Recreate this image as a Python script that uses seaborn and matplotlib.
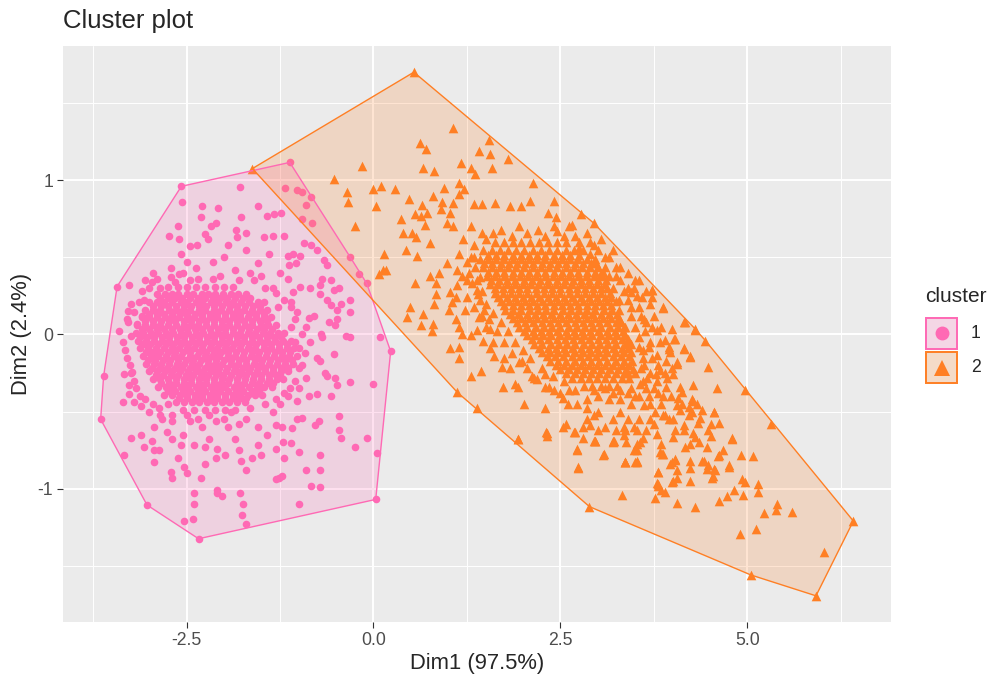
import numpy as np
import pandas as pd
import seaborn as sns
import matplotlib.pyplot as plt
from matplotlib.patches import Rectangle
from matplotlib.lines import Line2D

# ---- values (Dim1, Dim2) ----
# dense core of cluster 1: one row per Dim2 value
pink_core_y = [0.31, 0.26, 0.235, 0.21, 0.185, 0.16, 0.135, 0.11, 0.085, 0.06, 0.035, 0.01,
               -0.015, -0.04, -0.065, -0.09, -0.115, -0.14, -0.165, -0.19, -0.215, -0.24,
               -0.265, -0.29, -0.315, -0.34, -0.365, -0.39, -0.415, -0.44, -0.49]
pink_core_x = [
    [-2.75, -2.62, -2.50, -2.38, -2.25, -2.12, -2.00, -1.88],
    [-2.90, -2.79, -2.70, -2.61, -2.50, -2.41, -2.30, -2.21, -2.12, -2.01, -1.90, -1.81, -1.70],
    [-2.85, -2.75, -2.65, -2.56, -2.45, -2.35, -2.26, -2.15, -2.05, -1.96, -1.85, -1.75, -1.65],
    [-3.00, -2.89, -2.80, -2.69, -2.58, -2.49, -2.38, -2.29, -2.18, -2.08, -1.97, -1.88, -1.77, -1.66, -1.55, -1.47],
    [-2.95, -2.84, -2.75, -2.64, -2.54, -2.44, -2.33, -2.24, -2.13, -2.03, -1.92, -1.83, -1.72, -1.61, -1.52],
    [-3.05, -2.95, -2.85, -2.74, -2.64, -2.55, -2.45, -2.34, -2.25, -2.14, -2.04, -1.93, -1.83, -1.73, -1.62, -1.52, -1.42],
    [-3.00, -2.90, -2.80, -2.69, -2.59, -2.50, -2.39, -2.29, -2.19, -2.09, -1.99, -1.88, -1.78, -1.67, -1.57, -1.47],
    [-3.10, -3.00, -2.90, -2.79, -2.70, -2.60, -2.49, -2.40, -2.29, -2.19, -2.09, -1.98, -1.88, -1.78, -1.68, -1.57, -1.47, -1.37],
    [-3.05, -2.95, -2.84, -2.74, -2.65, -2.54, -2.44, -2.34, -2.24, -2.14, -2.03, -1.93, -1.83, -1.73, -1.62, -1.52, -1.42],
    [-3.16, -3.05, -2.95, -2.85, -2.75, -2.64, -2.54, -2.44, -2.35, -2.24, -2.14, -2.03, -1.93, -1.83, -1.72, -1.62, -1.51, -1.41, -1.31],
    [-3.10, -3.00, -2.90, -2.80, -2.70, -2.59, -2.49, -2.39, -2.29, -2.19, -2.08, -1.98, -1.88, -1.77, -1.67, -1.56, -1.46, -1.36],
    [-3.18, -3.08, -2.98, -2.88, -2.78, -2.68, -2.58, -2.48, -2.38, -2.28, -2.18, -2.08, -1.98, -1.88, -1.78, -1.68, -1.58, -1.48, -1.38, -1.28, -1.20],
    [-3.12, -3.03, -2.93, -2.83, -2.73, -2.63, -2.53, -2.43, -2.33, -2.23, -2.13, -2.03, -1.93, -1.83, -1.73, -1.63, -1.53, -1.43, -1.33, -1.24],
    [-3.15, -3.04, -2.94, -2.83, -2.73, -2.63, -2.53, -2.43, -2.33, -2.23, -2.13, -2.03, -1.93, -1.83, -1.73, -1.62, -1.52, -1.42, -1.32, -1.21, -1.11],
    [-3.08, -2.99, -2.88, -2.78, -2.68, -2.58, -2.48, -2.38, -2.28, -2.18, -2.07, -1.97, -1.87, -1.77, -1.67, -1.57, -1.47, -1.37, -1.26, -1.16],
    [-3.12, -3.01, -2.91, -2.80, -2.70, -2.60, -2.50, -2.40, -2.30, -2.19, -2.09, -1.99, -1.89, -1.78, -1.68, -1.58, -1.47, -1.37, -1.27, -1.16, -1.06, -0.99],
    [-3.04, -2.95, -2.85, -2.75, -2.65, -2.55, -2.45, -2.34, -2.24, -2.14, -2.04, -1.94, -1.84, -1.73, -1.63, -1.53, -1.42, -1.32, -1.22, -1.12],
    [-3.08, -2.98, -2.88, -2.77, -2.67, -2.57, -2.46, -2.36, -2.26, -2.16, -2.06, -1.95, -1.85, -1.75, -1.64, -1.54, -1.44, -1.33, -1.23, -1.13, -1.02],
    [-3.02, -2.92, -2.82, -2.72, -2.62, -2.51, -2.41, -2.31, -2.21, -2.11, -2.00, -1.90, -1.80, -1.70, -1.59, -1.49, -1.39, -1.28, -1.18, -1.09],
    [-3.04, -2.94, -2.84, -2.74, -2.63, -2.53, -2.43, -2.33, -2.22, -2.12, -2.02, -1.91, -1.81, -1.71, -1.60, -1.50, -1.40, -1.29, -1.19, -1.08],
    [-2.96, -2.86, -2.76, -2.66, -2.56, -2.46, -2.36, -2.26, -2.16, -2.06, -1.96, -1.85, -1.75, -1.65, -1.55, -1.45, -1.34, -1.24, -1.15],
    [-3.00, -2.90, -2.79, -2.69, -2.59, -2.48, -2.38, -2.28, -2.18, -2.08, -1.97, -1.87, -1.77, -1.66, -1.56, -1.45, -1.35, -1.24, -1.14],
    [-2.91, -2.81, -2.71, -2.61, -2.51, -2.41, -2.31, -2.21, -2.11, -2.01, -1.90, -1.80, -1.70, -1.60, -1.50, -1.40, -1.30, -1.25],
    [-2.95, -2.85, -2.75, -2.64, -2.54, -2.44, -2.34, -2.24, -2.13, -2.03, -1.93, -1.82, -1.72, -1.61, -1.51, -1.40, -1.29, -1.21],
    [-2.84, -2.74, -2.64, -2.54, -2.44, -2.34, -2.24, -2.14, -2.04, -1.94, -1.83, -1.73, -1.63, -1.53, -1.43, -1.34],
    [-2.88, -2.78, -2.68, -2.58, -2.48, -2.38, -2.28, -2.18, -2.08, -1.98, -1.87, -1.77, -1.67, -1.56, -1.46, -1.36],
    [-2.75, -2.65, -2.55, -2.45, -2.35, -2.25, -2.15, -2.05, -1.94, -1.84, -1.74, -1.63, -1.53],
    [-2.80, -2.70, -2.59, -2.49, -2.39, -2.29, -2.19, -2.09, -1.98, -1.88, -1.78, -1.68, -1.58, -1.49],
    [-2.60, -2.50, -2.39, -2.29, -2.19, -2.09, -1.98, -1.88, -1.78, -1.70],
    [-2.64, -2.54, -2.43, -2.33, -2.23, -2.13, -2.03, -1.93, -1.82, -1.72],
    [-2.55, -2.40, -2.26, -2.12, -1.98, -1.85],
]
# scattered points of cluster 1
pink_pts = [
    (-2.95, 0.40), (-2.55, 0.40), (-2.35, 0.36), (-2.05, 0.38), (-1.85, 0.42), (-1.60, 0.35),
    (-1.45, 0.30), (-1.30, 0.27), (-1.55, 0.46), (-2.00, 0.50), (-1.70, 0.55), (-2.15, 0.47),
    (-1.95, 0.58), (-1.40, 0.52), (-1.25, 0.40), (-1.15, 0.36), (-1.10, 0.18), (-1.05, 0.10),
    (-0.90, 0.05), (-0.85, -0.05), (-0.80, 0.12), (-0.95, -0.20), (-0.90, -0.28), (-1.00, -0.35),
    (-0.75, -0.15), (-0.70, 0.00), (-0.65, -0.25), (-1.15, -0.40), (-1.25, -0.45), (-1.35, -0.50),
    (-0.60, 0.08), (-0.62, 0.22), (-0.72, 0.26), (-0.85, 0.30), (-3.25, 0.20), (-3.30, 0.10),
    (-3.35, -0.05), (-3.30, -0.15), (-3.25, -0.25), (-3.18, -0.35), (-3.10, 0.28), (-3.05, 0.35),
    (-3.40, 0.02), (-2.95, -0.45), (-2.85, -0.52), (-2.70, -0.52), (-2.45, -0.56), (-2.30, -0.60),
    (-2.10, -0.56), (-1.95, -0.60), (-1.70, -0.55), (-1.55, -0.60), (-2.55, -0.65), (-2.20, -0.68),
    (-1.85, -0.68), (-2.40, -0.72),
    (-3.28, 0.15), (-3.32, -0.10), (-3.26, -0.20), (-3.20, -0.30), (-3.12, -0.40), (-3.05, -0.42),
    (-1.05, -0.05), (-0.95, 0.00), (-0.92, -0.12), (-1.00, -0.22), (-1.05, -0.30), (-1.12, -0.35),
    (-1.20, -0.38), (-1.10, 0.05), (-1.20, 0.22), (-1.28, 0.18), (-1.35, 0.30), (-1.50, 0.38),
    (-1.65, 0.40), (-1.80, 0.35), (-2.15, 0.36), (-2.45, 0.35), (-2.65, 0.34), (-2.85, 0.30),
    (-3.00, 0.30), (-2.75, -0.45), (-2.50, -0.52), (-2.20, -0.52), (-1.90, -0.50), (-1.65, -0.48),
    (-1.45, -0.45), (-1.30, -0.42), (-2.35, -0.55), (-2.00, -0.55), (-1.80, -0.58),
    (-2.57, 0.96), (-1.12, 1.115), (-1.79, 0.957), (-2.56, 0.86), (-2.29, 0.83), (-2.08, 0.82),
    (-1.55, 0.83), (-2.31, 0.76), (-1.77, 0.76), (-1.42, 0.77), (-1.33, 0.78), (-1.24, 0.785),
    (-1.18, 0.946), (-1.02, 0.935), (-0.95, 0.92), (-0.83, 0.89), (-0.90, 0.84), (-2.61, 0.70),
    (-2.74, 0.64), (-2.60, 0.62), (-2.11, 0.72), (-2.18, 0.70), (-2.25, 0.65), (-2.22, 0.62),
    (-1.84, 0.675), (-1.71, 0.66), (-1.82, 0.63), (-1.47, 0.63), (-1.35, 0.64), (-1.20, 0.64),
    (-0.95, 0.75), (-0.82, 0.72), (-0.93, 0.59), (-0.84, 0.58), (-0.75, 0.545), (-0.66, 0.48),
    (-0.62, 0.45), (-0.31, 0.50), (-0.19, 0.39), (-0.09, 0.33), (-0.57, 0.35), (-0.46, 0.30),
    (-0.53, 0.285), (-0.69, 0.36), (-0.71, 0.32), (-0.31, 0.22), (-0.44, 0.20), (-0.57, 0.19),
    (-0.49, 0.156), (-0.32, 0.145), (-0.49, 0.10), (-0.51, 0.06), (0.09, -0.02), (0.23, -0.11),
    (-0.37, -0.01), (-0.31, -0.02), (-0.69, -0.02), (-0.86, 0.106), (-1.02, 0.145), (-1.11, 0.21),
    (-1.07, 0.275), (-0.98, 0.31), (-1.13, 0.45), (-1.04, 0.46), (-1.15, 0.51), (-1.07, 0.52),
    (-0.98, 0.51), (-3.27, 0.32), (-2.89, 0.36), (-2.96, 0.34), (-2.71, 0.43), (-2.60, 0.39),
    (-2.71, 0.37), (-2.58, 0.52), (-2.45, 0.57), (-2.36, 0.58), (-2.49, 0.47), (-2.38, 0.43),
    (-3.14, 0.21), (-3.07, 0.22), (-3.20, 0.145), (-3.09, 0.12), (-3.29, 0.08), (-3.25, -0.01),
    (-3.16, 0.07), (-3.43, 0.31),
    (-3.61, -0.27), (-3.65, -0.55), (-3.34, -0.255), (-3.23, -0.245), (-3.27, -0.33), (-3.27, -0.385),
    (-3.35, -0.44), (-3.21, -0.44), (-3.11, -0.466), (-3.00, -0.50), (-2.87, -0.48), (-2.83, -0.55),
    (-2.69, -0.56), (-2.94, -0.60), (-2.76, -0.63), (-2.69, -0.68), (-3.24, -0.67), (-3.11, -0.65),
    (-2.96, -0.69), (-3.07, -0.73), (-2.94, -0.75), (-2.87, -0.75), (-2.94, -0.83), (-3.34, -0.785),
    (-2.61, -0.80), (-2.57, -0.72), (-2.71, -0.89), (-2.69, -0.93), (-2.54, -0.86), (-2.49, -0.90),
    (-2.31, -0.93), (-2.25, -0.84), (-2.40, -1.03), (-2.40, -1.10), (-2.42, -1.20), (-2.53, -1.21),
    (-3.03, -1.106), (-2.34, -1.325), (-2.09, -1.01), (-2.02, -1.05), (-2.09, -1.03), (-1.79, -1.03),
    (-1.74, -1.10), (-1.76, -1.17), (-1.70, -1.23), (-2.09, -0.74), (-1.99, -0.785), (-2.10, -0.80),
    (-2.25, -0.73), (-1.80, -0.75), (-1.77, -0.82), (-1.71, -0.88), (-1.63, -0.80), (-1.50, -0.78),
    (-1.55, -0.72), (-1.42, -0.655), (-1.31, -0.74), (-1.20, -0.80), (-1.21, -0.70), (-1.11, -0.705),
    (-1.27, -0.93), (-1.23, -0.915), (-1.30, -0.94), (-1.00, -0.76), (-0.90, -0.88), (-0.71, -0.88),
    (-0.71, -0.78), (-0.84, -0.98), (-0.72, -0.99), (-0.99, -1.10), (-1.31, -0.59), (-1.22, -0.60),
    (-1.09, -0.61), (-1.02, -0.55), (-0.95, -0.54), (-0.73, -0.56), (-0.78, -0.59), (-0.46, -0.53),
    (-0.46, -0.62), (-0.44, -0.67), (-0.08, -0.67), (-0.25, -0.73), (0.05, -0.77), (0.03, -1.07),
    (-0.57, -0.40), (-0.49, -0.33), (-0.31, -0.31), (0.00, -0.32), (-0.62, -0.27), (-0.51, -0.28),
    (-0.53, -0.125), (-0.71, -0.17), (-1.02, -0.43), (-0.86, -0.40), (-0.75, -0.385),
]

# dense core of cluster 2
orange_core_y = [0.60, 0.545, 0.5175, 0.49, 0.4625, 0.435, 0.4075, 0.38, 0.3525, 0.325, 0.2975,
                 0.27, 0.2425, 0.215, 0.1875, 0.16, 0.1325, 0.105, 0.0775, 0.05, 0.0225,
                 -0.005, -0.0325, -0.06, -0.0875, -0.115, -0.1425, -0.17, -0.1975, -0.225,
                 -0.2525, -0.28, -0.335]
orange_core_x = [
    [1.62, 1.74, 1.86, 1.98, 2.10, 2.22, 2.34, 2.46, 2.58],
    [1.47, 1.58, 1.69, 1.80, 1.91, 2.02, 2.13, 2.24, 2.35, 2.46, 2.57, 2.68, 2.80],
    [1.53, 1.64, 1.75, 1.86, 1.97, 2.08, 2.19, 2.30, 2.41, 2.52, 2.63, 2.75],
    [1.42, 1.53, 1.64, 1.75, 1.86, 1.97, 2.08, 2.19, 2.30, 2.41, 2.52, 2.63, 2.74, 2.85, 2.96],
    [1.48, 1.59, 1.70, 1.81, 1.92, 2.03, 2.14, 2.25, 2.36, 2.47, 2.58, 2.69, 2.80, 2.91, 2.98],
    [1.47, 1.58, 1.69, 1.80, 1.91, 2.02, 2.13, 2.24, 2.35, 2.46, 2.57, 2.68, 2.79, 2.90, 3.01, 3.10],
    [1.53, 1.64, 1.75, 1.86, 1.97, 2.08, 2.19, 2.30, 2.41, 2.52, 2.63, 2.74, 2.85, 2.96, 3.07],
    [1.52, 1.63, 1.74, 1.85, 1.96, 2.07, 2.18, 2.29, 2.40, 2.51, 2.62, 2.73, 2.84, 2.95, 3.06, 3.15],
    [1.57, 1.68, 1.79, 1.90, 2.01, 2.12, 2.23, 2.34, 2.45, 2.56, 2.67, 2.78, 2.89, 3.00, 3.11],
    [1.56, 1.67, 1.78, 1.89, 2.00, 2.11, 2.22, 2.33, 2.44, 2.55, 2.66, 2.77, 2.88, 2.99, 3.10],
    [1.62, 1.73, 1.84, 1.95, 2.06, 2.17, 2.28, 2.39, 2.50, 2.61, 2.72, 2.83, 2.94, 3.05, 3.12],
    [1.62, 1.73, 1.84, 1.95, 2.06, 2.17, 2.28, 2.39, 2.50, 2.61, 2.72, 2.83, 2.94, 3.05, 3.16],
    [1.67, 1.78, 1.89, 2.00, 2.11, 2.22, 2.33, 2.44, 2.55, 2.66, 2.77, 2.88, 2.99, 3.10, 3.18],
    [1.70, 1.81, 1.92, 2.03, 2.14, 2.25, 2.36, 2.47, 2.58, 2.69, 2.80, 2.91, 3.02, 3.13, 3.24],
    [1.75, 1.86, 1.97, 2.08, 2.19, 2.30, 2.41, 2.52, 2.63, 2.74, 2.85, 2.96, 3.07, 3.18],
    [1.76, 1.87, 1.98, 2.09, 2.20, 2.31, 2.42, 2.53, 2.64, 2.75, 2.86, 2.97, 3.08, 3.19, 3.29],
    [1.83, 1.94, 2.05, 2.16, 2.27, 2.38, 2.49, 2.60, 2.71, 2.82, 2.93, 3.04, 3.15, 3.26],
    [1.86, 1.97, 2.08, 2.19, 2.30, 2.41, 2.52, 2.63, 2.74, 2.85, 2.96, 3.07, 3.18, 3.29],
    [1.92, 2.03, 2.14, 2.25, 2.36, 2.47, 2.58, 2.69, 2.80, 2.91, 3.02, 3.13, 3.24, 3.31],
    [1.95, 2.06, 2.17, 2.28, 2.39, 2.50, 2.61, 2.72, 2.83, 2.94, 3.05, 3.16, 3.27, 3.36],
    [2.02, 2.13, 2.24, 2.35, 2.46, 2.57, 2.68, 2.79, 2.90, 3.01, 3.12, 3.23, 3.34],
    [2.05, 2.16, 2.27, 2.38, 2.49, 2.60, 2.71, 2.82, 2.93, 3.04, 3.15, 3.26, 3.37],
    [2.12, 2.23, 2.34, 2.45, 2.56, 2.67, 2.78, 2.89, 3.00, 3.11, 3.22, 3.33, 3.40],
    [2.15, 2.26, 2.37, 2.48, 2.59, 2.70, 2.81, 2.92, 3.03, 3.14, 3.25, 3.36, 3.45],
    [2.22, 2.33, 2.44, 2.55, 2.66, 2.77, 2.88, 2.99, 3.10, 3.21, 3.32, 3.40],
    [2.25, 2.36, 2.47, 2.58, 2.69, 2.80, 2.91, 3.02, 3.13, 3.24, 3.35, 3.45],
    [2.32, 2.43, 2.54, 2.65, 2.76, 2.87, 2.98, 3.09, 3.20, 3.31, 3.42],
    [2.36, 2.47, 2.58, 2.69, 2.80, 2.91, 3.02, 3.13, 3.24, 3.35, 3.46],
    [2.44, 2.55, 2.66, 2.77, 2.88, 2.99, 3.10, 3.21, 3.32, 3.42],
    [2.50, 2.61, 2.72, 2.83, 2.94, 3.05, 3.16, 3.27, 3.38, 3.47],
    [2.58, 2.69, 2.80, 2.91, 3.02, 3.13, 3.24, 3.35, 3.40],
    [2.66, 2.77, 2.88, 2.99, 3.10, 3.21, 3.32, 3.42],
    [2.82, 2.93, 3.04, 3.15, 3.26],
]
# scattered points of cluster 2
orange_pts = [
    (1.30, 0.70), (1.45, 0.66), (1.70, 0.68), (1.95, 0.70), (2.20, 0.68), (2.45, 0.67), (2.70, 0.64),
    (2.90, 0.60), (3.00, 0.55), (3.15, 0.50), (3.25, 0.44), (3.30, 0.35), (3.35, 0.28), (3.40, 0.22),
    (3.45, 0.12), (3.50, 0.05), (3.55, -0.02), (3.60, -0.10), (3.62, -0.20), (3.60, -0.30),
    (3.55, -0.40), (3.45, -0.45), (3.30, -0.42), (3.15, -0.42), (3.00, -0.40), (2.85, -0.42),
    (2.70, -0.36), (2.55, -0.30), (2.40, -0.27), (2.25, -0.22), (2.10, -0.15), (2.00, -0.10),
    (1.90, -0.05), (1.80, 0.02), (1.70, 0.08), (1.60, 0.14), (1.50, 0.20), (1.40, 0.26), (1.32, 0.33),
    (1.28, 0.40), (1.30, 0.50), (1.35, 0.58), (1.20, 0.62), (1.15, 0.52), (3.70, -0.45), (3.75, -0.35),
    (3.70, -0.05), (3.65, 0.08), (3.55, 0.18), (3.48, 0.30), (3.40, -0.55), (3.20, -0.55), (2.95, -0.52),
    (2.60, -0.45), (1.75, -0.15), (1.60, -0.05), (1.50, 0.05), (1.45, 0.12), (1.18, 0.38),
    (3.50, 0.35), (3.40, 0.40), (3.62, 0.10), (3.75, 0.12), (3.80, -0.20), (3.70, -0.25), (3.65, -0.35),
    (3.85, -0.45), (3.70, -0.55), (3.55, -0.55), (3.95, -0.55), (3.60, -0.15), (3.85, 0.05),
    (3.50, -0.25), (3.45, -0.35), (3.30, -0.50), (3.10, -0.60), (2.85, -0.55), (3.00, -0.50),
    (2.75, 0.60), (2.85, 0.66), (2.95, 0.72), (2.90, 0.52), (3.05, 0.62), (2.62, 0.70),
    (3.52, 0.25), (3.58, 0.12), (3.63, 0.02), (3.68, -0.08), (3.55, -0.08), (3.72, -0.15), (3.58, -0.22),
    (3.66, -0.28), (3.78, -0.26), (3.56, -0.32), (3.68, -0.40), (3.80, -0.38), (3.62, -0.46),
    (3.76, -0.50), (3.88, -0.52), (3.50, -0.40), (3.40, -0.38), (3.30, -0.36), (3.20, -0.38),
    (3.10, -0.35), (2.95, -0.36), (3.35, -0.60), (3.52, -0.62), (3.65, -0.62), (3.25, -0.62),
    (3.00, -0.62), (2.80, -0.60), (3.45, 0.18), (3.40, 0.30), (3.30, 0.44), (3.20, 0.55), (3.10, 0.50),
    (3.05, 0.40), (3.20, 0.30), (3.28, 0.22), (3.35, 0.05), (3.42, -0.05), (3.55, 0.35), (3.65, 0.28),
    (3.83, -0.05), (3.90, -0.25), (3.98, -0.40), (3.72, 0.05),
    (1.35, 0.50), (1.38, 0.35), (1.45, 0.28), (1.50, 0.62), (1.60, 0.66), (1.85, 0.64), (2.05, 0.66),
    (2.30, 0.64), (2.55, 0.64), (2.75, 0.56), (2.95, 0.58), (1.55, 0.10), (1.65, 0.02), (1.75, -0.05),
    (1.85, -0.12), (1.95, -0.18), (2.15, -0.28), (2.35, -0.34), (2.50, -0.38), (2.62, -0.36),
    (1.48, 0.16), (1.42, 0.22),
    (-1.62, 1.075), (0.54, 1.70), (1.06, 1.335), (0.62, 1.24), (0.70, 1.205), (1.54, 1.26), (1.41, 1.19),
    (1.555, 1.17), (1.80, 1.14), (-0.16, 1.09), (-0.53, 1.005), (0.66, 1.08), (0.81, 1.06), (1.17, 1.11),
    (1.30, 1.08), (1.36, 1.04), (1.58, 1.08), (-0.36, 0.92), (-0.34, 0.86), (0.00, 0.94), (0.10, 0.96),
    (0.29, 0.945), (0.03, 0.83), (-0.25, 0.70), (0.47, 0.88), (0.65, 0.84), (0.79, 0.90), (0.95, 0.95),
    (1.15, 0.98), (1.21, 0.945), (1.14, 0.91), (0.92, 0.86), (1.06, 0.85), (0.905, 0.81), (1.03, 0.79),
    (0.56, 0.78), (0.63, 0.77), (0.72, 0.79), (0.69, 0.71), (0.37, 0.75), (0.39, 0.66), (0.52, 0.66),
    (0.57, 0.63), (0.14, 0.52), (0.43, 0.545), (0.58, 0.51), (0.76, 0.59), (0.985, 0.72), (1.07, 0.70),
    (1.34, 0.845), (1.45, 0.845), (1.63, 0.85), (1.83, 0.83), (1.97, 0.83), (2.10, 0.865), (2.14, 0.98),
    (2.41, 0.865), (2.34, 0.79), (2.44, 0.76), (2.42, 0.70), (2.77, 0.78), (2.66, 0.71), (0.13, 0.42),
    (0.08, 0.39), (0.17, 0.415),
    (6.42, -1.21), (5.92, -1.695), (5.05, -1.56), (6.03, -1.41), (4.90, -1.295), (5.12, -1.26),
    (5.22, -1.16), (5.40, -1.10), (5.60, -1.15), (4.62, -1.08), (4.73, -1.045), (4.82, -1.01),
    (4.95, -1.04), (5.14, -1.02), (4.30, -1.12), (4.06, -1.09), (3.77, -1.06), (3.90, -1.02),
    (3.32, -1.04), (3.81, -0.98), (3.99, -0.96), (4.24, -0.95), (2.89, -1.117), (1.94, -0.68),
    (2.01, -0.45), (2.29, -0.48), (2.57, -0.58), (2.54, -0.60), (2.31, -0.63), (2.32, -0.66),
    (2.69, -0.63), (2.80, -0.67), (2.90, -0.59), (2.96, -0.69), (2.72, -0.75), (2.74, -0.865),
    (3.07, -0.785), (3.36, -0.83), (3.50, -0.83), (3.22, -0.69), (3.38, -0.70), (3.53, -0.75),
    (3.61, -0.67), (3.53, -0.71), (3.81, -0.89), (3.79, -0.965), (3.84, -1.01), (4.01, -0.95),
    (3.86, -0.775), (4.04, -0.81), (4.24, -0.82), (4.42, -0.82), (4.46, -0.87), (4.55, -0.87),
    (4.54, -0.92), (4.62, -0.785), (4.75, -0.85), (4.68, -0.75), (4.80, -0.67), (4.92, -0.78),
    (5.08, -0.79), (4.93, -0.94), (4.97, -0.96), (5.15, -0.97), (5.39, -1.14), (5.32, -0.58),
    (2.72, -0.45), (2.86, -0.48),
    (3.25, 0.38), (3.73, 0.29), (3.88, 0.17), (3.59, 0.24), (3.70, 0.20), (4.17, 0.08), (4.30, 0.03),
    (4.44, -0.04), (3.99, 0.037), (3.79, 0.03), (4.02, -0.03), (3.90, -0.035), (4.15, -0.09),
    (4.23, -0.14), (3.95, -0.08), (3.97, -0.115), (4.48, -0.21), (4.28, -0.33), (4.59, -0.35),
    (4.97, -0.36), (4.06, -0.19), (3.99, -0.22), (3.93, -0.28), (4.10, -0.34), (4.08, -0.41),
    (4.28, -0.43), (4.13, -0.45), (4.22, -0.525), (4.39, -0.49), (4.55, -0.50), (4.62, -0.575),
    (4.48, -0.62), (4.34, -0.575), (4.79, -0.68), (4.75, -0.86), (4.61, -0.79), (4.28, -0.64),
    (4.35, -0.70), (4.46, -0.73), (4.51, -0.66), (4.24, -0.71), (4.15, -0.62), (4.04, -0.62),
    (4.48, -0.85), (4.57, -0.88), (4.53, -0.93), (3.80, -0.97), (3.84, -0.71), (3.88, -0.775),
    (3.99, -0.83), (4.06, -0.88), (4.39, -0.82), (3.21, -0.69), (3.37, -0.62), (3.48, -0.60),
    (3.75, -0.58), (3.48, -0.75), (3.53, -0.82), (3.36, -0.83), (3.90, -0.525), (4.01, -0.55),
    (4.15, -0.59), (4.26, -0.50), (4.37, -0.54), (4.51, -0.58), (4.56, -0.505), (4.33, -0.45),
    (4.22, -0.47), (4.10, -0.49),
    (0.55, 0.33), (0.83, 0.33), (0.87, 0.395), (0.76, 0.38), (0.83, 0.26), (0.81, 0.20), (0.485, 0.18),
    (0.66, 0.135), (0.45, 0.11), (0.63, 0.058), (0.80, 0.07), (0.78, 0.02), (1.03, -0.09), (1.14, -0.08),
    (1.14, -0.15), (1.30, -0.27), (1.44, -0.235), (1.12, -0.375), (1.39, -0.48), (1.93, -0.68),
    (1.73, -0.34), (1.89, -0.32), (1.93, -0.34), (2.30, -0.34), (2.41, -0.36), (2.54, -0.41),
    (2.32, -0.64), (2.72, -0.74), (2.74, -0.86), (2.95, -0.69), (2.68, -0.635), (1.56, -0.09),
    (1.61, -0.14), (1.72, -0.21), (1.83, -0.22), (1.99, -0.17), (2.05, -0.22), (2.12, -0.27),
    (2.19, -0.29), (2.30, -0.255), (1.03, 0.275), (1.05, 0.21), (1.01, 0.156), (1.10, 0.10),
    (1.14, 0.048), (1.19, 0.00), (1.30, -0.006), (1.39, 0.026), (1.47, -0.04), (1.56, 0.037),
    (0.985, 0.46), (1.12, 0.415), (1.25, 0.47), (1.36, 0.44), (1.43, 0.37), (1.25, 0.35), (1.12, 0.32),
    (1.10, 0.24), (1.25, 0.24), (1.39, 0.285), (1.34, 0.18), (1.23, 0.156), (1.41, 0.11),
    (3.44, 0.275), (3.72, 0.24), (3.72, 0.286), (3.88, 0.18), (4.15, 0.08), (4.30, 0.037), (4.04, -0.03),
    (3.95, -0.093), (4.15, -0.093), (4.23, -0.147), (3.79, -0.136), (3.92, -0.17), (4.06, -0.18),
    (3.83, -0.234), (4.01, -0.256), (4.13, -0.375), (4.26, -0.42), (4.06, -0.46), (3.88, -0.40),
    (3.92, -0.34), (3.79, -0.30), (3.35, -0.655), (3.57, -0.70), (3.79, -0.645), (4.01, -0.665),
    (4.17, -0.73), (4.30, -0.665), (3.83, -0.765), (4.04, -0.815), (4.24, -0.865), (3.81, -0.895),
    (4.06, -0.93), (3.97, -0.84), (3.53, -0.83), (3.37, -0.83), (3.08, -0.775), (2.97, -0.69),
    (3.21, -0.70),
]

cluster_names = ["1", "2"]
cluster_colors = ["#FF69B4", "#FF7F24"]


def build(core_y, core_x, pts, name):
    rows = [(x, y) for y, xs in zip(core_y, core_x) for x in xs] + list(pts)
    d = pd.DataFrame(rows, columns=["Dim1", "Dim2"])
    d["cluster"] = name
    return d


df = pd.concat([build(pink_core_y, pink_core_x, pink_pts, "1"),
                build(orange_core_y, orange_core_x, orange_pts, "2")], ignore_index=True)


def chull(p):
    # monotone chain convex hull
    p = sorted(set(map(tuple, p)))
    def cross(o, a, b):
        return (a[0] - o[0]) * (b[1] - o[1]) - (a[1] - o[1]) * (b[0] - o[0])
    lower, upper = [], []
    for q in p:
        while len(lower) >= 2 and cross(lower[-2], lower[-1], q) <= 0:
            lower.pop()
        lower.append(q)
    for q in reversed(p):
        while len(upper) >= 2 and cross(upper[-2], upper[-1], q) <= 0:
            upper.pop()
        upper.append(q)
    return np.array(lower[:-1] + upper[:-1])


sns.set_style("darkgrid", {"axes.facecolor": "#EBEBEB", "grid.color": "white"})
plt.rcParams['font.family'] = ['Liberation Sans', 'DejaVu Sans']

W, H = 1008, 688
fig = plt.figure(figsize=(W / 100, H / 100), dpi=100)
ax = fig.add_axes([63 / W, 1 - 622 / H, (891 - 63) / W, (622 - 46) / H])

markers = {"1": ("o", 30), "2": ("^", 48)}
for name, col in zip(cluster_names, cluster_colors):
    sub = df[df["cluster"] == name]
    m, s = markers[name]
    sns.scatterplot(data=sub, x="Dim1", y="Dim2", color=col, marker=m, s=s,
                    linewidth=0, ax=ax, legend=False, zorder=2)

for name, col in zip(cluster_names, cluster_colors):
    sub = df[df["cluster"] == name]
    hull = chull(sub[["Dim1", "Dim2"]].values)
    ax.fill(hull[:, 0], hull[:, 1], facecolor=col, alpha=0.2, edgecolor="none", zorder=3)
    closed = np.vstack([hull, hull[:1]])
    ax.plot(closed[:, 0], closed[:, 1], color=col, lw=1.0, zorder=4)

ax.margins(x=0.05, y=0.05)

ax.set_xticks([-2.5, 0.0, 2.5, 5.0])
ax.set_xticklabels(["-2.5", "0.0", "2.5", "5.0"])
ax.set_xticks([-3.75, -1.25, 1.25, 3.75, 6.25], minor=True)
ax.set_yticks([-1, 0, 1])
ax.set_yticklabels(["-1", "0", "1"])
ax.set_yticks([-1.5, -0.5, 0.5, 1.5], minor=True)
ax.grid(which="major", color="white", lw=1.4)
ax.grid(which="minor", color="white", lw=0.7)
ax.set_axisbelow(True)
ax.tick_params(which="major", length=4, width=0.8, color="#333333",
               labelsize=12.7, labelcolor="#4D4D4D", pad=3, bottom=True, left=True)
ax.tick_params(which="minor", length=0)
for sp in ax.spines.values():
    sp.set_visible(False)
ax.set_xlabel("")
ax.set_ylabel("")

fig.text(477 / W, 1 - 664 / H, "Dim1 (97.5%)", ha="center", va="center", fontsize=15.8)
fig.text(22 / W, 1 - 334 / H, "Dim2 (2.4%)", ha="center", va="center",
         rotation=90, fontsize=15.8)
fig.text(63 / W, 1 - 28 / H, "Cluster plot", ha="left", va="baseline", fontsize=18.5)

# legend drawn by hand
fig.text(925 / W, 1 - 302 / H, "cluster", ha="left", va="baseline", fontsize=15)
key_tops = [317, 351]
key_marks = [("o", 10), ("^", 12)]
for top, name, col, (m, ms) in zip(key_tops, cluster_names, cluster_colors, key_marks):
    x0, y0 = 925 / W, 1 - (top + 33) / H
    fig.add_artist(Rectangle((x0, y0), 33 / W, 33 / H, transform=fig.transFigure,
                             facecolor="#F2F2F2", edgecolor="none"))
    fig.add_artist(Rectangle((x0, y0), 33 / W, 33 / H, transform=fig.transFigure,
                             facecolor=col, alpha=0.2, edgecolor="none"))
    fig.add_artist(Rectangle((x0 + 0.7 / W, y0 + 0.7 / H), 31.6 / W, 31.6 / H,
                             transform=fig.transFigure, facecolor="none",
                             edgecolor=col, lw=1.4))
    fig.add_artist(Line2D([941.5 / W], [1 - (top + 16.5) / H], transform=fig.transFigure,
                          marker=m, markersize=ms, color=col, markeredgewidth=0, linestyle="none"))
    fig.text(971 / W, 1 - (top + 16.5) / H, name, ha="left", va="center", fontsize=12.7)

fig.savefig("out.png", dpi=100)
